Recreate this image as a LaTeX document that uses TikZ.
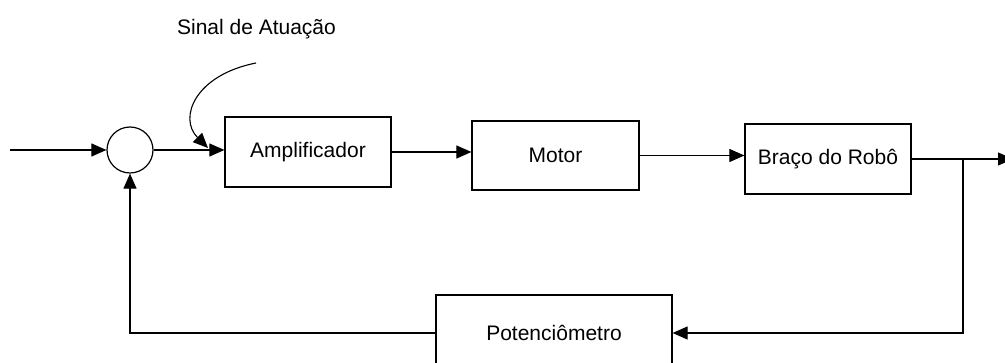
\documentclass[tikz,border=0pt]{standalone}
\usepackage{fontspec}
\setmainfont{Liberation Sans}
\usetikzlibrary{arrows.meta}
\begin{document}
\begin{tikzpicture}[x=1pt,y=-1pt,
  txt/.style={font=\fontsize{21}{25}\selectfont},
  blk/.style={draw, line width=1.2pt, minimum width=166pt, minimum height=70pt, inner sep=0pt, txt},
  ln/.style={line width=1.1pt},
  sig/.style={line width=1.1pt, -{Triangle[length=15pt,width=13pt]}}]
\useasboundingbox (0,0) rectangle (1005,363);
\node[circle, draw, line width=1.2pt, minimum size=46pt, inner sep=0pt] (sum) at (130,150) {};
\node[blk] (amp) at (308,152) {Amplificador};
\node[blk, minimum width=167pt, minimum height=69pt] (mot) at (555.5,155.5) {Motor};
\node[blk] (arm) at (828,159) {Braço do Robô};
\node[blk, minimum width=236pt, minimum height=76pt] (pot) at (554,333) {Potenciômetro};
\node[txt] (lab) at (256.5,29) {Sinal de Atuação};
\coordinate (in) at (10,150);
\coordinate (j) at (963,159);
\coordinate (out) at (1013,159);
\coordinate (cs) at (256,63);
\coordinate (ce) at (208,148);
\draw[sig] (in) -- (sum.west);
\draw[sig] (sum.east) -- (sum.east -| amp.west);
\draw[sig] (amp.east) -- (amp.east -| mot.west);
\draw[sig] (mot.east) -- (mot.east -| arm.west);
\draw[ln] (arm.east) -- (j);
\draw[sig] (j) -- (out);
\draw[sig] (j) |- (pot.east);
\draw[sig] (pot.west) -| (sum.south);
\draw[sig] (cs) .. controls (195,75) and (178,118) .. (ce);
\end{tikzpicture}
\end{document}
